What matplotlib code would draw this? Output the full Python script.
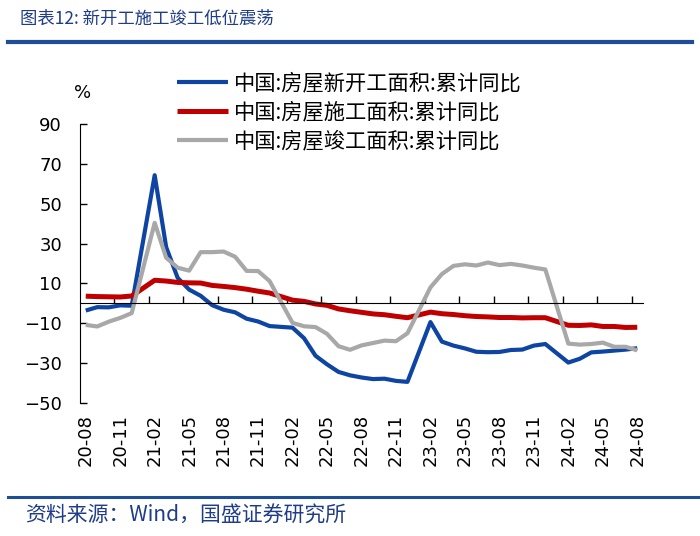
import numpy as np
import matplotlib
matplotlib.use('Agg')
import matplotlib.pyplot as plt
from matplotlib.lines import Line2D

plt.rcParams['font.family'] = ['Noto Sans CJK SC', 'DejaVu Sans']

# monthly, 2020-08 .. 2024-08 (no January release -> None)
n_months = 49
tick_labels = ['20-08', '20-11', '21-02', '21-05', '21-08', '21-11', '22-02', '22-05', '22-08',
               '22-11', '23-02', '23-05', '23-08', '23-11', '24-02', '24-05', '24-08']

new_start = [-3.6, -1.9, -2.0, -1.0, -1.2, None,
             64.3, 28.2, 12.8, 6.9, 3.8, -0.9, -3.2, -4.5, -7.7, -9.1, -11.4, None,
             -12.2, -17.5, -26.3, -30.6, -34.4, -36.1, -37.2, -38.0, -37.8, -38.9, -39.4, None,
             -9.4, -19.2, -21.2, -22.6, -24.3, -24.5, -24.4, -23.4, -23.2, -21.2, -20.4, None,
             -29.7, -27.8, -24.6, -24.2, -23.7, -23.2, -22.5]
under_constr = [3.6, 3.4, 3.3, 3.2, 3.7, None,
                11.6, 11.2, 10.5, 10.3, 10.2, 9.0, 8.5, 7.9, 7.1, 6.1, 5.2, None,
                1.6, 1.0, -0.3, -1.0, -2.8, -3.7, -4.5, -5.3, -5.7, -6.5, -7.2, None,
                -4.4, -5.2, -5.6, -6.2, -6.6, -6.8, -7.1, -7.1, -7.3, -7.2, -7.2, None,
                -11.0, -11.1, -10.8, -11.6, -11.6, -12.1, -12.0]
completed = [-10.8, -11.6, -9.2, -7.3, -4.9, None,
             40.4, 22.9, 17.9, 16.4, 25.7, 25.7, 26.0, 23.4, 16.3, 16.2, 11.2, None,
             -9.8, -11.5, -11.9, -15.3, -21.5, -23.3, -21.1, -19.9, -18.7, -19.0, -15.0, None,
             8.0, 14.7, 18.8, 19.6, 19.0, 20.5, 19.2, 19.8, 19.0, 17.9, 17.0, None,
             -20.2, -20.7, -20.4, -19.7, -21.8, -21.8, -23.6]

labels = ['中国:房屋新开工面积:累计同比', '中国:房屋施工面积:累计同比', '中国:房屋竣工面积:累计同比']
colors = ['#0E45A3', '#C00000', '#A8A8A8']
widths = [3.0, 3.6, 3.0]

navy = '#1F3C88'

fig = plt.figure(figsize=(7, 5.36), dpi=100)
ax = fig.add_axes([80/700, 1-403/536, 563/700, 279/536])

x = np.arange(n_months)
for vals, lab, c, lw in zip([new_start, under_constr, completed], labels, colors, widths):
    y = np.array([np.nan if v is None else v for v in vals], dtype=float)
    ok = ~np.isnan(y)
    ax.plot(x[ok], y[ok], color=c, lw=lw, label=lab, solid_joinstyle='round', solid_capstyle='butt')

ax.set_xlim(-0.5, n_months - 0.5)
ax.set_ylim(-50, 90)
ax.set_yticks(np.arange(-50, 91, 20))
ax.tick_params(axis='y', direction='in', length=5, pad=13, labelsize=13, width=1)
for lab in ax.get_yticklabels():
    lab.set_fontfamily('DejaVu Sans')

# x axis sits on zero, ticks between categories
ax.spines['bottom'].set_position(('data', 0))
ax.spines['top'].set_visible(False)
ax.spines['right'].set_visible(False)
ax.set_xticks(np.arange(2.5, n_months - 1, 3))
ax.set_xticklabels([])
ax.tick_params(axis='x', direction='in', length=5, width=1)

sec = ax.secondary_xaxis('bottom')
sec.set_xticks(np.arange(0, n_months, 3), labels=tick_labels)
sec.tick_params(length=0, pad=8, labelsize=13, labelrotation=90)
sec.spines['bottom'].set_visible(False)
for lab in sec.get_xticklabels():
    lab.set_fontfamily('DejaVu Sans')

ax.text(83/700, 1-93/536, '%', transform=fig.transFigure, ha='center', va='center',
        fontsize=13, family='DejaVu Sans')

ax.legend(loc='upper left', bbox_to_anchor=(177/700, 1-72/536), bbox_transform=fig.transFigure,
          frameon=False, fontsize=15.3, handlelength=2.4, handletextpad=0.3, labelspacing=0.33,
          borderpad=0, borderaxespad=0)

# header / footer
fig.text(20/700, 1-19/536, '图表12: 新开工施工竣工低位震荡', ha='left', va='center',
         fontsize=12.5, color=navy, style='italic')
fig.add_artist(Line2D([8/700, 692/700], [1-42/536, 1-42/536], lw=3, color='#1F4E99'))
fig.add_artist(Line2D([8/700, 1.0], [1-497/536, 1-497/536], lw=2.2, color='#1F4E99'))
fig.text(25/700, 1-516/536, '资料来源：Wind，国盛证券研究所', ha='left', va='center',
         fontsize=15, color=navy, style='italic')

fig.savefig('out.png', dpi=100)
